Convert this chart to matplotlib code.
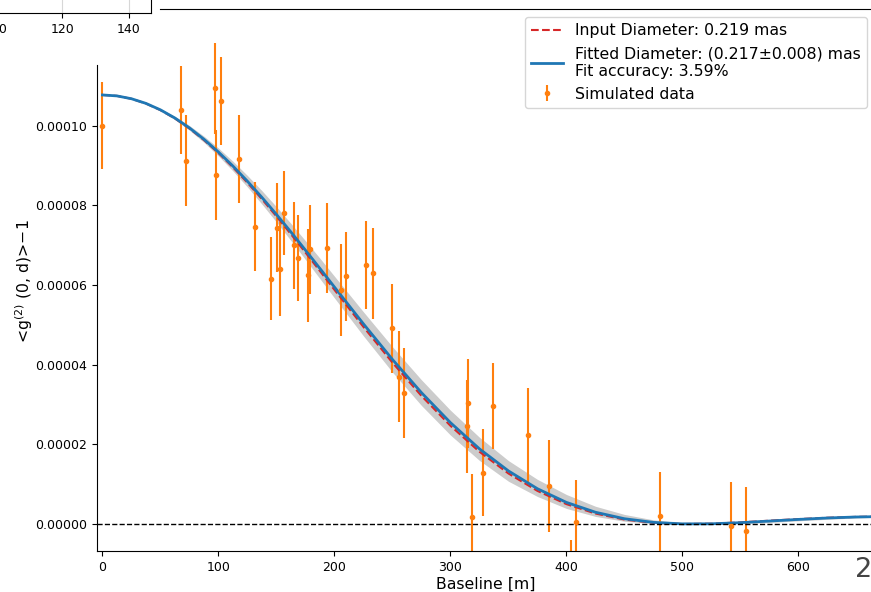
import numpy as np
import matplotlib
matplotlib.use("Agg")
import matplotlib.pyplot as plt
from matplotlib.ticker import FormatStrFormatter

W, H = 871, 592
SCALE = 1e-5  # signal values below are in units of 1e-5

# simulated measurements: baseline [m], <g2>-1 [1e-5], 1-sigma error [1e-5]
baseline = [0, 67.4, 71.7, 97.0, 101.9, 97.6, 117.4, 131.7, 145.0, 150.7,
            153.0, 156.7, 165.1, 168.8, 177.2, 178.9, 193.3, 205.9, 209.6, 227.2,
            232.9, 249.8, 255.3, 259.6, 315.3, 314.0, 318.3, 327.8, 336.6, 366.6,
            384.7, 407.9, 403.6, 480.6, 542.0, 554.5]
signal = [10.00, 10.39, 9.12, 10.94, 10.62, 8.76, 9.16, 7.46, 6.16, 7.44,
          6.41, 7.80, 7.00, 6.67, 6.24, 6.90, 6.93, 5.87, 6.22, 6.50,
          6.29, 4.91, 3.70, 3.29, 3.03, 2.45, 0.17, 1.29, 2.96, 2.23,
          0.96, 0.04, -1.50, 0.20, -0.05, -0.18]
sigma = [1.09, 1.11, 1.14, 1.14, 1.11, 1.14, 1.10, 1.12, 1.05, 1.12,
         1.18, 1.06, 1.09, 1.08, 1.16, 1.12, 1.13, 1.15, 1.12, 1.11,
         1.15, 1.11, 1.14, 1.12, 1.11, 1.17, 1.08, 1.10, 1.09, 1.19,
         1.15, 1.06, 1.10, 1.11, 1.10, 1.10]

# model curves (denser where the curve bends at the top)
curve_b = [0, 12.5, 25, 37.5, 50, 62.5, 75, 87.5, 100, 112.5, 125, 137.5, 150,
           162.5, 175, 187.5, 200, 225, 250, 275, 300, 325, 350, 375, 400, 425,
           450, 475, 500, 525, 550, 575, 600, 625, 650, 675]
fit_curve = [10.77, 10.746, 10.675, 10.558, 10.396, 10.190, 9.943, 9.657, 9.337,
             8.984, 8.603, 8.197, 7.771, 7.329, 6.874, 6.413, 5.947, 5.023,
             4.130, 3.297, 2.544, 1.886, 1.332, 0.885, 0.542, 0.295, 0.132,
             0.040, 0.003, 0.005, 0.033, 0.074, 0.115, 0.151, 0.176, 0.188]
input_curve = [10.77, 10.746, 10.673, 10.554, 10.389, 10.180, 9.928, 9.638, 9.312,
               8.954, 8.567, 8.155, 7.723, 7.275, 6.815, 6.349, 5.879, 4.948,
               4.051, 3.217, 2.466, 1.814, 1.268, 0.831, 0.499, 0.263, 0.111,
               0.029, 0.000, 0.008, 0.040, 0.083, 0.123, 0.157, 0.179, 0.190]
band_hi = [10.77, 10.748, 10.682, 10.573, 10.423, 10.232, 10.002, 9.735, 9.436,
           9.106, 8.747, 8.366, 7.963, 7.544, 7.110, 6.670, 6.220, 5.325,
           4.449, 3.619, 2.856, 2.177, 1.591, 1.12, 0.74, 0.445, 0.240,
           0.104, 0.028, 0.002, 0.008, 0.038, 0.079, 0.118, 0.152, 0.176]
band_lo = [10.77, 10.744, 10.668, 10.543, 10.369, 10.148, 9.884, 9.579, 9.238,
           8.862, 8.459, 8.028, 7.579, 7.114, 6.638, 6.156, 5.674, 4.721,
           3.811, 2.975, 2.232, 1.595, 1.073, 0.69, 0.39, 0.19, 0.068,
           0.012, 0.003, 0.025, 0.066, 0.109, 0.147, 0.174, 0.188, 0.192]

x_ticks = [0, 100, 200, 300, 400, 500, 600]
y_ticks = [0, 2e-5, 4e-5, 6e-5, 8e-5, 10e-5]

fig = plt.figure(figsize=(W / 100, H / 100), dpi=100)

# main axes (right edge runs just past the cropped picture)
ax = fig.add_axes([97 / W, (H - 551) / H, (875 - 97) / W, (551 - 9.3) / H])

s = lambda v: np.array(v) * SCALE
ax.fill_between(curve_b, s(band_lo), s(band_hi), color="gray", alpha=0.4, lw=0)
err = ax.errorbar(baseline, s(signal), yerr=s(sigma), fmt=".", color="C1",
                  elinewidth=1.5, label="Simulated data")
l_in, = ax.plot(curve_b, s(input_curve), "--", color="C3", lw=1.5,
                label="Input Diameter: 0.219 mas")
l_fit, = ax.plot(curve_b, s(fit_curve), color="C0", lw=2,
                 label="Fitted Diameter: (0.217\u00b10.008) mas\nFit accuracy: 3.59%")
ax.axhline(0, color="k", ls="--", lw=1)

ax.set_xlim(-4.7, 666)
ax.set_ylim(-0.678e-5, 12.92e-5)
ax.set_xticks(x_ticks)
ax.set_yticks(y_ticks)
ax.yaxis.set_major_formatter(FormatStrFormatter("%.5f"))
ax.tick_params(labelsize=9)
ax.set_xlabel("Baseline [m]", fontsize=11.3, labelpad=2)
ax.set_ylabel("<g$^{(2)}$ (0, d)>\u22121", fontsize=11.3)
ax.yaxis.set_label_coords(-0.0797, 0.498)
ax.spines["left"].set_bounds(-0.678e-5, 11.52e-5)
ax.spines["top"].set_bounds(49.6, 666)

ax.legend(handles=[l_in, l_fit, err], loc="upper right", fontsize=11.3)

# part of the neighbouring panel visible at the top-left corner
ax2 = fig.add_axes([-50 / W, (H - 13.3) / H, 200.7 / W, 0.2])
ax2.set_xlim(86.2, 146.6)
ax2.set_xticks([100, 120, 140])
ax2.set_yticks([])
ax2.grid(axis="x", color="#b0b0b0", alpha=0.5)
ax2.tick_params(labelsize=9)

fig.text(855 / W, 1 - 577 / H, "2", fontsize=19.5, color="#444444",
         ha="left", va="baseline")

fig.savefig("out.png", dpi=100)
